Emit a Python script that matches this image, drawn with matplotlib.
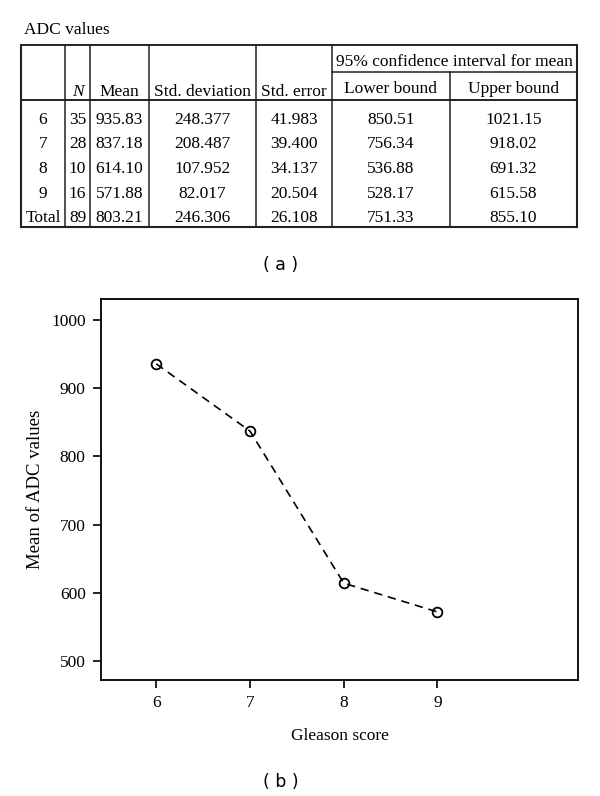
import matplotlib
matplotlib.use('Agg')
import matplotlib.pyplot as plt

# data
grades = [6, 7, 8, 9]
row_labels = ['6', '7', '8', '9', 'Total']
n_vals = ['35', '28', '10', '16', '89']
means = [935.83, 837.18, 614.10, 571.88, 803.21]
std_dev = ['248.377', '208.487', '107.952', '82.017', '246.306']
std_err = ['41.983', '39.400', '34.137', '20.504', '26.108']
lower = ['850.51', '756.34', '536.88', '528.17', '751.33']
upper = ['1021.15', '918.02', '691.32', '615.58', '855.10']
headers = ['', 'N', 'Mean', 'Std. deviation', 'Std. error']

W, H = 600, 796
serif = 'Liberation Serif'

fig = plt.figure(figsize=(W / 100, H / 100), dpi=100)

# table (a) drawn in pixel space
tab = fig.add_axes([0, 0, 1, 1])
tab.set_xlim(0, W)
tab.set_ylim(H, 0)
tab.axis('off')

edges = [21, 65, 90, 149, 256, 332, 450, 577]
y_top, y_sub, y_head, y_bot = 45, 72, 100, 227
lw = 1.1
for i, x in enumerate(edges):
    y0 = y_sub if i == 6 else y_top
    tab.plot([x, x], [y0, y_bot], color='#222222', lw=lw if 0 < i < 7 else 1.5)
tab.plot([edges[0], edges[-1]], [y_top, y_top], color='#222222', lw=1.4)
tab.plot([edges[5], edges[-1]], [y_sub, y_sub], color='#222222', lw=lw)
tab.plot([edges[0], edges[-1]], [y_head, y_head], color='#222222', lw=1.4)
tab.plot([edges[0], edges[-1]], [y_bot, y_bot], color='#222222', lw=1.5)

fs = 12.5
tab.text(24, 34, 'ADC values', fontsize=fs, family=serif, va='baseline')
for j, h in enumerate(headers):
    cx = (edges[j] + edges[j + 1]) / 2
    tab.text(cx, 96, h, fontsize=fs, family=serif, ha='center', va='baseline',
             style='italic' if h == 'N' else 'normal')
tab.text((edges[5] + edges[7]) / 2, 66, '95% confidence interval for mean',
         fontsize=fs, family=serif, ha='center', va='baseline')
tab.text((edges[5] + edges[6]) / 2, 93, 'Lower bound', fontsize=fs, family=serif,
         ha='center', va='baseline')
tab.text((edges[6] + edges[7]) / 2, 93, 'Upper bound', fontsize=fs, family=serif,
         ha='center', va='baseline')

baselines = [124, 148.5, 173, 197.5, 222]
for r in range(len(row_labels)):
    cols = [row_labels[r], n_vals[r], '%.2f' % means[r], std_dev[r], std_err[r],
            lower[r], upper[r]]
    for j, s in enumerate(cols):
        cx = (edges[j] + edges[j + 1]) / 2
        tab.text(cx, baselines[r], s, fontsize=fs, family=serif, ha='center', va='baseline')

fig.text(281 / W, 1 - 265 / H, '( a )', fontsize=12.5, family='DejaVu Sans', ha='center', va='center')

# line plot (b)
ax = fig.add_axes([101 / W, 1 - 680 / H, 477 / W, 381 / H])
ax.plot(grades, means[:4], color='black', ls=(0, (5, 3.5)), lw=1.2,
        marker='o', markersize=7, markerfacecolor='none', markeredgewidth=1.3)
ax.set_xlim(5.41, 10.5)
ax.set_ylim(472, 1031)
ax.set_xticks(grades)
ax.set_yticks([500, 600, 700, 800, 900, 1000])
ax.tick_params(direction='out', length=6, width=1.2, labelsize=12.5, pad=5,
               top=False, right=False)
for lab in ax.get_xticklabels() + ax.get_yticklabels():
    lab.set_family(serif)
for sp in ax.spines.values():
    sp.set_linewidth(1.3)
ax.set_xlabel('Gleason score', fontsize=12.5, family=serif, labelpad=12)
ax.set_ylabel('Mean of ADC values', fontsize=13.5, family=serif, labelpad=5)

fig.text(281 / W, 1 - 782 / H, '( b )', fontsize=12.5, family='DejaVu Sans', ha='center', va='center')

fig.savefig('out.png', dpi=100)
